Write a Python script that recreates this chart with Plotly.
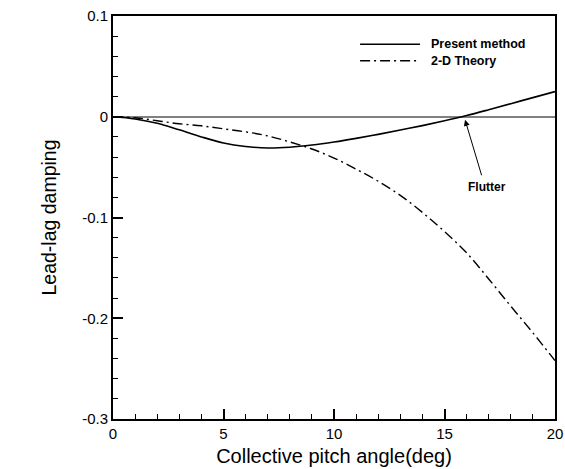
import plotly.graph_objects as go

pitch = [0, 1, 2, 3, 4, 5, 6, 7, 8, 9, 10, 11, 12, 13, 14, 15, 16, 17, 18, 19, 20]
present = [0.0, -0.0022, -0.0065, -0.013, -0.020, -0.026, -0.0295, -0.031, -0.0302, -0.0281,
           -0.0251, -0.0215, -0.0175, -0.0132, -0.0088, -0.0040, 0.0012, 0.0070, 0.0130, 0.0190, 0.025]
theory = [0.0, -0.001, -0.004, -0.007, -0.009, -0.012, -0.015, -0.019, -0.025, -0.032,
          -0.041, -0.052, -0.064, -0.078, -0.095, -0.114, -0.135, -0.161, -0.188, -0.2145, -0.242]

xticks = [0, 5, 10, 15, 20]
yticks = [-0.3, -0.2, -0.1, 0, 0.1]
yticktext = ["-0.3", "-0.2", "-0.1", "0", "0.1"]

font = "Arial, Liberation Sans, sans-serif"
dashdot = "10px,4px,2px,4px"

fig = go.Figure()
fig.add_trace(go.Scatter(x=pitch, y=present, mode="lines", name="Present method",
                         line=dict(color="black", width=1.6, shape="spline"), showlegend=False))
fig.add_trace(go.Scatter(x=pitch, y=theory, mode="lines", name="2-D Theory",
                         line=dict(color="black", width=1.4, dash=dashdot, shape="spline"),
                         showlegend=False))

# custom legend
legend_items = [("Present method", "solid", 0.9298), ("2-D Theory", dashdot, 0.889)]
for label, dash, yy in legend_items:
    fig.add_shape(type="line", xref="paper", yref="paper", x0=0.559, x1=0.6946, y0=yy, y1=yy,
                  line=dict(color="black", width=1.4, dash=dash))
    fig.add_annotation(xref="paper", yref="paper", x=0.716, y=yy, text="<b>%s</b>" % label,
                       showarrow=False, xanchor="left", yanchor="middle",
                       font=dict(family=font, size=12.5, color="black"))

# Flutter annotation
fig.add_annotation(x=15.93, y=-0.003, ax=16.7, ay=-0.0596, axref="x", ayref="y",
                   xref="x", yref="y", text="", showarrow=True, arrowhead=2,
                   arrowsize=1.2, arrowwidth=1, arrowcolor="black")
fig.add_annotation(x=16.92, y=-0.070, xref="x", yref="y", text="<b>Flutter</b>",
                   showarrow=False, font=dict(family=font, size=12, color="black"))

fig.update_layout(
    width=565, height=469,
    margin=dict(l=113, r=10, t=16, b=50),
    paper_bgcolor="white", plot_bgcolor="white",
    font=dict(family=font, size=15, color="black"),
)
fig.update_xaxes(range=[0, 20], tickvals=xticks, ticks="inside", ticklen=10, tickwidth=1.5,
                 tickcolor="black", showline=True, linecolor="black", linewidth=2, mirror=True,
                 showgrid=False, zeroline=False, automargin=False,
                 minor=dict(dtick=1, ticks="inside", ticklen=5, tickwidth=1, tickcolor="black"),
                 title=dict(text="Collective pitch angle(deg)", font=dict(size=20), standoff=8),
                 tickfont=dict(size=15))
fig.update_yaxes(range=[-0.3, 0.1], tickvals=yticks, ticktext=yticktext, ticks="inside", ticklen=10,
                 tickwidth=1.5, tickcolor="black", showline=True, linecolor="black", linewidth=2,
                 mirror=True, showgrid=False, zeroline=True, zerolinecolor="#808080", zerolinewidth=1.5,
                 automargin=False,
                 minor=dict(dtick=0.02, ticks="inside", ticklen=5, tickwidth=1, tickcolor="black"),
                 title=dict(text="Lead-lag damping", font=dict(size=19.5), standoff=20),
                 tickfont=dict(size=15))

fig.write_html("out.html")
